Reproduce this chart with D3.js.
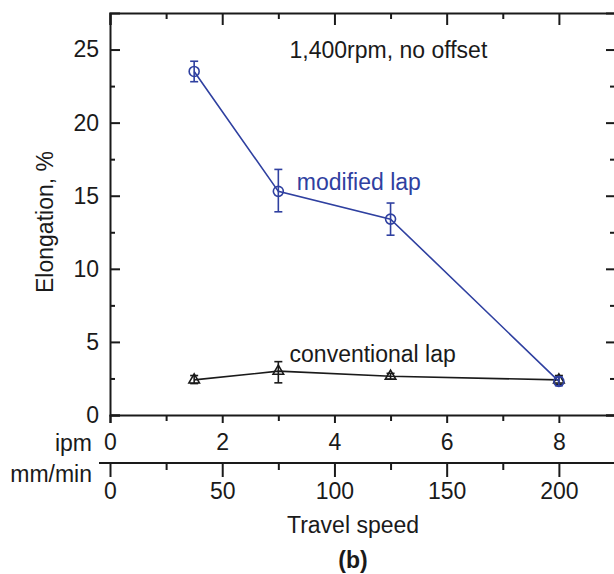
<!DOCTYPE html>
<html>
<head>
<meta charset="utf-8">
<script src="https://cdn.jsdelivr.net/npm/d3@7"></script>
<style>
  body { margin: 0; background: #fff; }
  svg text { font-family: "Liberation Sans", Arial, sans-serif; fill: #1a1a1a; }
  .axis path, .axis line { stroke: #1a1a1a; stroke-width: 2; }
  .axis text { font-size: 23px; }
</style>
</head>
<body>
<svg id="chart" width="614" height="574"></svg>
<script>
// travel speed, ipm
var speeds = [1.5, 3, 5, 8];

// modified lap elongation (%) and error bar ends
var modified = [23.5, 15.3, 13.4, 2.3];
var modifiedHi = [24.2, 16.8, 14.5, 2.6];
var modifiedLo = [22.8, 13.9, 12.3, 2.0];

// conventional lap elongation (%) and error bar ends
var conventional = [2.4, 3.0, 2.65, 2.4];
var conventionalHi = [2.7, 3.65, 2.85, 2.7];
var conventionalLo = [2.15, 2.2, 2.45, 2.1];

var yMajor = [0, 5, 10, 15, 20, 25];
var yMinor = [2.5, 7.5, 12.5, 17.5, 22.5];
var ipmMajor = [0, 2, 4, 6, 8];
var ipmMinor = [1, 3, 5, 7];
var mmMajor = [0, 50, 100, 150, 200];
var mmMinor = [25, 75, 125, 175];

var blue = "#2f40a0";

var svg = d3.select("#chart");
var mLeft = 110, mRight = 615, mTop = 13, mBottom = 415;

var x = d3.scaleLinear().domain([0, 9]).range([mLeft, mRight]);
var xmm = d3.scaleLinear().domain([0, 225]).range([mLeft, mRight]);
var y = d3.scaleLinear().domain([0, 27.5]).range([mBottom, mTop]);

// left axis, ticks inward
svg.append("g").attr("class", "axis")
   .attr("transform", "translate(" + mLeft + ",0)")
   .call(d3.axisLeft(y).tickValues(yMajor).tickSize(-10).tickPadding(11));
svg.append("g").attr("class", "axis")
   .attr("transform", "translate(" + mLeft + ",0)")
   .call(d3.axisLeft(y).tickValues(yMinor).tickSize(-5).tickFormat(""))
   .select(".domain").remove();

// right axis, ticks inward
svg.append("g").attr("class", "axis")
   .attr("transform", "translate(" + mRight + ",0)")
   .call(d3.axisRight(y).tickValues(yMajor).tickSize(-9).tickFormat(""));
svg.append("g").attr("class", "axis")
   .attr("transform", "translate(" + mRight + ",0)")
   .call(d3.axisRight(y).tickValues(yMinor).tickSize(-5).tickFormat(""))
   .select(".domain").remove();

// top axis, ticks inward
svg.append("g").attr("class", "axis")
   .attr("transform", "translate(0," + mTop + ")")
   .call(d3.axisTop(x).tickValues(ipmMajor).tickSize(-12).tickFormat(""));
svg.append("g").attr("class", "axis")
   .attr("transform", "translate(0," + mTop + ")")
   .call(d3.axisTop(x).tickValues(ipmMinor).tickSize(-6).tickFormat(""))
   .select(".domain").remove();

// bottom ipm axis
svg.append("g").attr("class", "axis")
   .attr("transform", "translate(0," + mBottom + ")")
   .call(d3.axisBottom(x).tickValues(ipmMajor).tickSize(8).tickPadding(11));
svg.append("g").attr("class", "axis")
   .attr("transform", "translate(0," + mBottom + ")")
   .call(d3.axisBottom(x).tickValues(ipmMinor).tickSize(6).tickFormat(""))
   .select(".domain").remove();

// mm/min axis
var mmY = 463;
svg.append("line")
   .attr("x1", 99).attr("x2", 614)
   .attr("y1", mmY).attr("y2", mmY)
   .attr("stroke", "#1a1a1a").attr("stroke-width", 2);
svg.append("g").attr("class", "axis")
   .attr("transform", "translate(0," + mmY + ")")
   .call(d3.axisBottom(xmm).tickValues(mmMajor).tickSize(14).tickPadding(6))
   .select(".domain").remove();
svg.append("g").attr("class", "axis")
   .attr("transform", "translate(0," + mmY + ")")
   .call(d3.axisBottom(xmm).tickValues(mmMinor).tickSize(7).tickFormat(""))
   .select(".domain").remove();

// axis unit labels
svg.append("text").attr("x", 92).attr("y", 451)
   .attr("text-anchor", "end").attr("font-size", "23px").text("ipm");
svg.append("text").attr("x", 92).attr("y", 482)
   .attr("text-anchor", "end").attr("font-size", "23px").text("mm/min");

svg.append("text").attr("x", 353).attr("y", 533)
   .attr("text-anchor", "middle").attr("font-size", "23px").text("Travel speed");
svg.append("text").attr("x", 353).attr("y", 568)
   .attr("text-anchor", "middle").attr("font-size", "23px")
   .attr("font-weight", "bold").text("(b)");

svg.append("text")
   .attr("transform", "translate(53," + 222 + ") rotate(-90)")
   .attr("text-anchor", "middle").attr("font-size", "23px")
   .text("Elongation, %");

// annotations
svg.append("text").attr("x", x(3.2)).attr("y", y(24.45))
   .attr("font-size", "23px").text("1,400rpm, no offset");
svg.append("text").attr("x", x(3.33)).attr("y", y(15.4))
   .attr("font-size", "23px").style("fill", blue).text("modified lap");
svg.append("text").attr("x", x(3.2)).attr("y", y(3.6))
   .attr("font-size", "23px").text("conventional lap");

function series(vals, hi, lo, color, shape) {
  var pts = speeds.map(function(s, i) { return {s: s, v: vals[i], hi: hi[i], lo: lo[i]}; });
  var g = svg.append("g");
  g.append("path")
   .datum(pts)
   .attr("fill", "none").attr("stroke", color).attr("stroke-width", 1.6)
   .attr("d", d3.line().x(function(d) { return x(d.s); }).y(function(d) { return y(d.v); }));
  var eb = g.selectAll(".eb").data(pts).enter().append("g")
   .attr("stroke", color).attr("stroke-width", 1.6);
  eb.append("line")
   .attr("x1", function(d) { return x(d.s); }).attr("x2", function(d) { return x(d.s); })
   .attr("y1", function(d) { return y(d.hi); }).attr("y2", function(d) { return y(d.lo); });
  eb.append("line")
   .attr("x1", function(d) { return x(d.s) - 4; }).attr("x2", function(d) { return x(d.s) + 4; })
   .attr("y1", function(d) { return y(d.hi); }).attr("y2", function(d) { return y(d.hi); });
  eb.append("line")
   .attr("x1", function(d) { return x(d.s) - 4; }).attr("x2", function(d) { return x(d.s) + 4; })
   .attr("y1", function(d) { return y(d.lo); }).attr("y2", function(d) { return y(d.lo); });
  if (shape === "circle") {
    g.selectAll(".pt").data(pts).enter().append("circle")
     .attr("cx", function(d) { return x(d.s); }).attr("cy", function(d) { return y(d.v); })
     .attr("r", 5).attr("fill", "none")
     .attr("stroke", color).attr("stroke-width", 1.6);
  } else {
    g.selectAll(".pt").data(pts).enter().append("path")
     .attr("transform", function(d) { return "translate(" + x(d.s) + "," + y(d.v) + ")"; })
     .attr("d", d3.symbol(d3.symbolTriangle, 48))
     .attr("fill", "none")
     .attr("stroke", color).attr("stroke-width", 1.6);
  }
}

series(conventional, conventionalHi, conventionalLo, "#1a1a1a", "triangle");
series(modified, modifiedHi, modifiedLo, blue, "circle");
</script>
</body>
</html>
